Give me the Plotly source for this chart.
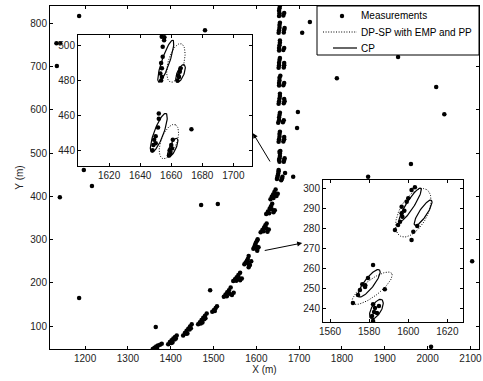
import numpy as np
import plotly.graph_objects as go

# ---------------- data ----------------
# clutter measurements (main view)
clutter_pts = [(1186, 817), (1133, 754), (1142, 754), (1134, 701), (1480, 784), (1197, 461),
               (1216, 424), (1141, 398), (1471, 380), (1510, 382), (1186, 165), (1365, 98),
               (1492, 183), (1725, 803), (1707, 778), (1931, 722), (1788, 673), (2020, 653),
               (2039, 590), (1697, 595), (1695, 558), (1961, 475), (1861, 445), (1686, 445),
               (1667, 454), (2104, 250), (2008, 52)]

# target measurements along the track (main view)
track_pts = [
    (1653, 817), (1654, 823), (1653, 829), (1654, 835), (1655, 840), (1663, 818), (1665, 824),
    (1652, 778), (1653, 784), (1654, 790), (1654, 796), (1655, 801), (1664, 779), (1665, 785), (1666, 789),
    (1653, 737), (1653, 743), (1654, 749), (1655, 755), (1655, 760), (1663, 738), (1665, 743),
    (1652, 697), (1653, 703), (1653, 709), (1654, 715), (1655, 720), (1664, 698), (1665, 703), (1665, 708),
    (1653, 656), (1653, 662), (1654, 668), (1654, 674), (1656, 679), (1663, 657), (1665, 662),
    (1652, 614), (1653, 620), (1654, 626), (1655, 632), (1655, 637), (1664, 615), (1666, 620), (1665, 625),
    (1651, 570), (1653, 576), (1653, 582), (1654, 588), (1655, 593), (1662, 571), (1664, 576),
    (1652, 526), (1653, 532), (1654, 538), (1654, 544), (1655, 549), (1663, 527), (1665, 532), (1665, 537),
    (1654, 480), (1653, 484), (1654, 488), (1655, 493), (1655, 499), (1654, 503), (1656, 505),
    (1664, 480), (1665, 484), (1666, 488),
    (1648, 440), (1649, 444), (1650, 448), (1651, 453), (1652, 458), (1652, 461),
    (1658, 437), (1660, 441), (1661, 445),
    (1633, 393), (1636, 399), (1639, 404), (1642, 410), (1645, 416), (1647, 401), (1650, 406),
    (1640, 396), (1644, 403),
    (1623, 359), (1627, 365), (1631, 371), (1634, 377), (1637, 383), (1640, 363), (1643, 368),
    (1630, 361), (1636, 370),
    (1610, 317), (1614, 322), (1618, 328), (1621, 333), (1624, 337), (1626, 318), (1629, 323),
    (1617, 319), (1623, 326),
    (1593, 279), (1595, 283), (1597, 288), (1599, 293), (1602, 298), (1603, 301), (1602, 278),
    (1602, 274), (1605, 282), (1600, 284),
    (1572, 243), (1575, 247), (1578, 251), (1580, 255), (1582, 262), (1583, 240), (1582, 236),
    (1585, 241), (1588, 250), (1580, 246),
    (1546, 204), (1550, 208), (1554, 213), (1558, 218), (1562, 223), (1562, 206), (1566, 210),
    (1553, 205), (1559, 211),
    (1524, 168), (1528, 173), (1532, 178), (1536, 183), (1540, 189), (1543, 172), (1547, 177),
    (1531, 169), (1538, 175),
    (1497, 133), (1501, 137), (1505, 142), (1508, 146), (1503, 135),
    (1464, 104), (1468, 109), (1472, 114), (1476, 119), (1480, 124), (1484, 129), (1470, 106), (1478, 116),
    (1474, 108), (1481, 118),
    (1429, 78), (1433, 84), (1437, 89), (1441, 94), (1445, 99), (1449, 104), (1436, 82), (1444, 92),
    (1439, 83), (1447, 95),
    (1394, 58), (1398, 63), (1402, 67), (1406, 71), (1410, 75), (1414, 78), (1401, 61), (1409, 69),
    (1404, 62), (1412, 71),
    (1358, 47), (1362, 50), (1366, 53), (1370, 55), (1375, 57), (1379, 59), (1368, 50),
]

# measurements shown in the upper-left inset
inset1_meas = [(1653.9, 505), (1655.6, 504.7), (1655.4, 503), (1654.5, 499.3), (1654.5, 493.6),
               (1653.5, 490), (1654, 487), (1653, 484), (1654, 482), (1653.5, 480),
               (1664, 480), (1665, 482), (1665.5, 485), (1666, 487), (1664.5, 483),
               (1652, 461), (1652, 458), (1651.5, 453), (1650, 448), (1649, 446), (1648.5, 443),
               (1650, 444), (1648, 440),
               (1658.5, 437), (1659, 440), (1660, 443), (1661, 446), (1659.5, 438.5), (1660.5, 441),
               (1673, 452)]

# measurements shown in the lower-right inset
inset2_meas = [(1601.7, 299.5), (1603.4, 300.8), (1600, 295.3), (1599.2, 293.6), (1596.6, 291),
               (1596.6, 287.7), (1595.8, 283.5), (1594.8, 281.9), (1593.2, 279.3), (1602.6, 278.5),
               (1601.7, 274.3), (1604.6, 281.4), (1598, 289), (1597, 286),
               (1582, 261.7), (1579.4, 255.2), (1577.9, 250.6), (1575.3, 249.1), (1574.3, 246.6),
               (1571.7, 242.6), (1576.5, 252), (1578, 251.5), (1582, 242), (1583, 240),
               (1582.5, 238), (1584, 237.5), (1585, 241), (1581.5, 236), (1582, 233.5), (1588, 249.5)]

# ellipses: (cx, cy, semi-major, semi-minor, angle in degrees)
cp_inset1 = [(1656.5, 491, 12.8, 2.5, 69), (1666, 484, 5.5, 2.2, 65),
             (1652, 450, 12, 3, 67), (1661, 441.5, 6, 2, 62)]
dpsp_inset1 = [(1663, 490, 11.5, 5, 72), (1658.5, 445, 10.5, 5, 66)]
cp_inset2 = [(1601, 292, 10, 2, 57), (1607.6, 288, 7.6, 2, 56),
             (1580, 252.5, 8.6, 2.5, 52), (1583.7, 239.5, 5.5, 2.5, 60)]
dpsp_inset2 = [(1602.6, 288, 13.5, 7, 60), (1581.5, 250, 12.5, 4, 37)]

main_xticks = [1200, 1300, 1400, 1500, 1600, 1700, 1800, 1900, 2000, 2100]
main_yticks = [100, 200, 300, 400, 500, 600, 700, 800]
inset1_xticks = [1620, 1640, 1660, 1680, 1700]
inset1_yticks = [440, 460, 480, 500]
inset2_xticks = [1560, 1580, 1600, 1620]
inset2_yticks = [240, 250, 260, 270, 280, 290, 300]

legend_labels = ["Measurements", "DP-SP with EMP and PP", "CP"]


def ellipse_path(ells):
    xs, ys = [], []
    t = np.linspace(0, 2 * np.pi, 80)
    for cx, cy, a, b, ang in ells:
        th = np.deg2rad(ang)
        xs += list(cx + a * np.cos(t) * np.cos(th) - b * np.sin(t) * np.sin(th)) + [None]
        ys += list(cy + a * np.cos(t) * np.sin(th) + b * np.sin(t) * np.cos(th)) + [None]
    return xs, ys


FONT = "Liberation Sans, Arial, sans-serif"
DOT = "1px,1.6px"
MS = 4.5
W, H = 483, 381
ML, MR, MT, MB = 50, 4, 6, 32
PW, PH = W - ML - MR, H - MT - MB


def px2paper(px, py):
    return (px - ML) / PW, (H - MB - py) / PH


fig = go.Figure()
all_main = clutter_pts + track_pts
fig.add_trace(go.Scatter(x=[p[0] for p in all_main], y=[p[1] for p in all_main], mode="markers",
                         marker=dict(color="black", size=MS), name=legend_labels[0],
                         showlegend=False, xaxis="x", yaxis="y"))

for ax, ay, meas, cp, dp in [("x2", "y2", inset1_meas, cp_inset1, dpsp_inset1),
                             ("x3", "y3", inset2_meas, cp_inset2, dpsp_inset2)]:
    fig.add_trace(go.Scatter(x=[p[0] for p in meas], y=[p[1] for p in meas], mode="markers",
                             marker=dict(color="black", size=MS), showlegend=False,
                             xaxis=ax, yaxis=ay))
    dx, dy = ellipse_path(dp)
    fig.add_trace(go.Scatter(x=dx, y=dy, mode="lines", line=dict(color="black", width=1, dash=DOT),
                             name=legend_labels[1], showlegend=False, xaxis=ax, yaxis=ay))
    cx, cy = ellipse_path(cp)
    fig.add_trace(go.Scatter(x=cx, y=cy, mode="lines", line=dict(color="black", width=1.2),
                             name=legend_labels[2], showlegend=False, xaxis=ax, yaxis=ay))

axis_common = dict(showline=True, linecolor="black", linewidth=1, mirror="ticks", ticks="inside",
                   ticklen=3, tickcolor="black", showgrid=False, zeroline=False, automargin=False,
                   tickfont=dict(family=FONT, size=10, color="#222"))

fig.update_layout(
    width=W, height=H,
    margin=dict(l=ML, r=MR, t=MT, b=MB, autoexpand=False),
    paper_bgcolor="white", plot_bgcolor="white",
    font=dict(family=FONT, size=10, color="#222"),
    xaxis=dict(domain=[0, 1], range=[1118, 2120], tickvals=main_xticks, anchor="y",
               title=dict(text="X (m)", standoff=2, font=dict(size=10)), **axis_common),
    yaxis=dict(domain=[0, 1], range=[47, 840], tickvals=main_yticks, anchor="x",
               title=dict(text="Y (m)", standoff=4, font=dict(size=10)), **axis_common),
    xaxis2=dict(domain=[0.0653, 0.4709], range=[1600, 1712], tickvals=inset1_xticks, anchor="y2",
                **axis_common),
    yaxis2=dict(domain=[0.5335, 0.9155], range=[431, 506], tickvals=inset1_yticks, anchor="x2",
                **axis_common),
    xaxis3=dict(domain=[0.6364, 0.9627], range=[1556.4, 1628], tickvals=inset2_xticks, anchor="y3",
                **axis_common),
    yaxis3=dict(domain=[0.0787, 0.4927], range=[233, 304.5], tickvals=inset2_yticks, anchor="x3",
                **axis_common),
    showlegend=False,
)

# hand-built legend box (MATLAB style)
bx0, by0 = px2paper(317, 55)
bx1, by1 = px2paper(479, 6)
fig.add_shape(type="rect", xref="paper", yref="paper", x0=bx0, y0=by0, x1=bx1, y1=by1,
              fillcolor="white", line=dict(color="black", width=1), layer="above")
row_y = [16, 32, 48]
tx, _ = px2paper(359, 0)
for lab, ry in zip(legend_labels, row_y):
    _, yy = px2paper(0, ry)
    fig.add_annotation(x=tx, y=yy, xref="paper", yref="paper", text=lab, showarrow=False,
                       xanchor="left", yanchor="middle", font=dict(family=FONT, size=10, color="black"))
mx, my = px2paper(342, row_y[0])
fig.add_shape(type="circle", xref="paper", yref="paper", xsizemode="pixel", ysizemode="pixel",
              xanchor=mx, yanchor=my, x0=-2.2, x1=2.2, y0=-2.2, y1=2.2,
              fillcolor="black", line=dict(color="black", width=0), layer="above")
lx0, ly = px2paper(323, row_y[1])
lx1, _ = px2paper(357, 0)
fig.add_shape(type="line", xref="paper", yref="paper", x0=lx0, x1=lx1, y0=ly, y1=ly,
              line=dict(color="black", width=1, dash=DOT), layer="above")
lx0, ly = px2paper(333, row_y[2])
fig.add_shape(type="line", xref="paper", yref="paper", x0=lx0, x1=lx1, y0=ly, y1=ly,
              line=dict(color="black", width=1.2), layer="above")

fig.add_annotation(x=1592, y=546, ax=1634, ay=477, xref="x", yref="y", axref="x", ayref="y",
                   showarrow=True, arrowhead=2, arrowsize=1, arrowwidth=1, arrowcolor="black", text="")
fig.add_annotation(x=1707, y=292, ax=1616, ay=274, xref="x", yref="y", axref="x", ayref="y",
                   showarrow=True, arrowhead=2, arrowsize=1, arrowwidth=1, arrowcolor="black", text="")

fig.write_html("out.html", config={"displayModeBar": False, "staticPlot": True},
               post_script="document.body.style.margin='0';document.body.style.overflow='hidden';")
